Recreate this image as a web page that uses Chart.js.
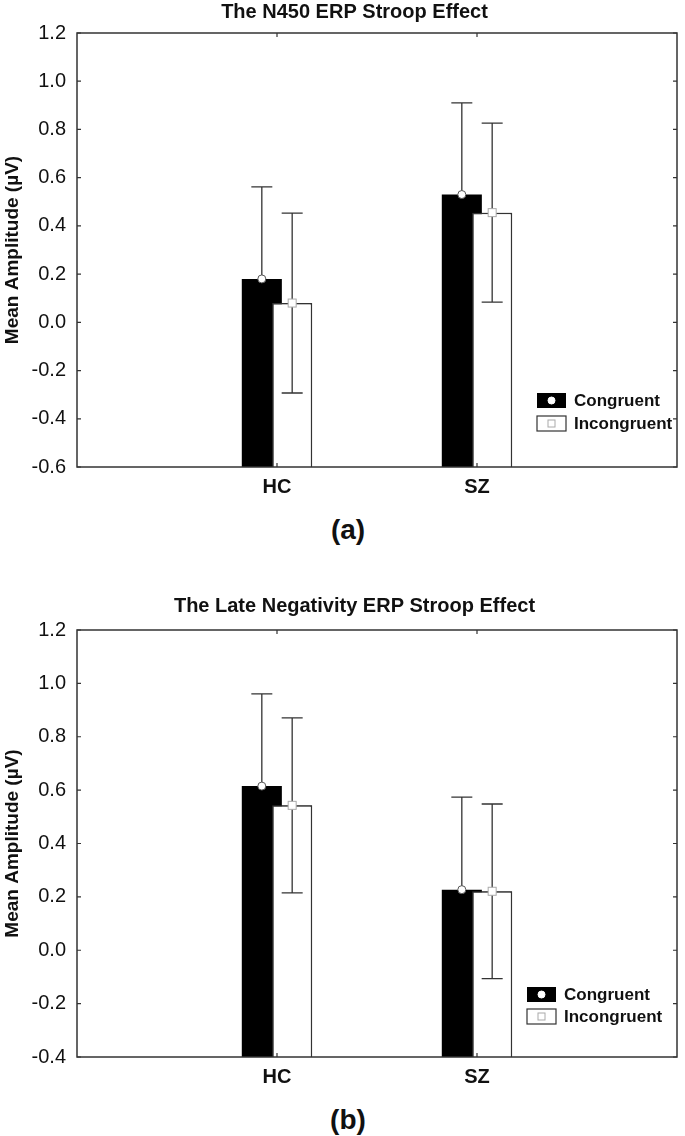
<!DOCTYPE html>
<html>
<head>
<meta charset="utf-8">
<script src="https://cdn.jsdelivr.net/npm/chart.js@4.4.1/dist/chart.umd.min.js"></script>
<style>
  body { margin: 0; background: #fff; width: 685px; height: 1136px; position: relative; overflow: hidden;
         font-family: "Liberation Sans", Arial, sans-serif; }
  .box { position: absolute; left: 0; width: 685px; height: 505px; }
  .panel { position: absolute; left: 0; width: 696px; text-align: center; font-weight: bold;
           font-size: 28px; line-height: 32px; color: #111; }
</style>
</head>
<body>
<div class="box" style="top:0px"><canvas id="chartA"></canvas></div>
<div class="panel" style="top:514px">(a)</div>
<div class="box" style="top:594px"><canvas id="chartB"></canvas></div>
<div class="panel" style="top:1104px">(b)</div>

<script>
const groups = ['HC', 'SZ'];
const seriesNames = ['Congruent', 'Incongruent'];
const yTitle = 'Mean Amplitude (\u00b5V)';

// (a) N450
const n450Title = 'The N450 ERP Stroop Effect';
const n450Congruent = [0.18, 0.53];
const n450Incongruent = [0.08, 0.455];
const n450CongruentErr = [0.382, 0.38];
const n450IncongruentErr = [0.373, 0.371];
const n450Ticks = [-0.6, -0.4, -0.2, 0.0, 0.2, 0.4, 0.6, 0.8, 1.0, 1.2];

// (b) late negativity
const lateTitle = 'The Late Negativity ERP Stroop Effect';
const lateCongruent = [0.615, 0.227];
const lateIncongruent = [0.543, 0.221];
const lateCongruentErr = [0.346, 0.347];
const lateIncongruentErr = [0.328, 0.327];
const lateTicks = [-0.4, -0.2, 0.0, 0.2, 0.4, 0.6, 0.8, 1.0, 1.2];

const FONT = '"Liberation Sans", Arial, sans-serif';
const INK = '#111';
const LINE = '#333';

// empty slots at both ends so HC / SZ sit at 1/3 and 2/3 of the axis
function pad(arr) { return [null, ...arr, null]; }

function drawErrors(ctx, chart, index) {
  const ds = chart.data.datasets[index];
  const meta = chart.getDatasetMeta(index);
  const y = chart.scales.y;
  ctx.save();
  ctx.strokeStyle = LINE;
  ctx.lineWidth = 1.3;
  meta.data.forEach((bar, i) => {
    const v = ds.data[i];
    if (v == null) return;
    const e = ds.errors[i];
    const top = y.getPixelForValue(v + e);
    const bot = y.getPixelForValue(v - e);
    ctx.beginPath();
    ctx.moveTo(bar.x, top); ctx.lineTo(bar.x, bot);
    ctx.moveTo(bar.x - 10.5, top); ctx.lineTo(bar.x + 10.5, top);
    ctx.moveTo(bar.x - 10.5, bot); ctx.lineTo(bar.x + 10.5, bot);
    ctx.stroke();
  });
  ctx.restore();
}

function drawCircle(ctx, x, y, r, stroke) {
  ctx.beginPath();
  ctx.arc(x, y, r, 0, Math.PI * 2);
  ctx.fillStyle = '#fff';
  ctx.fill();
  ctx.strokeStyle = stroke;
  ctx.lineWidth = 1;
  ctx.stroke();
}

function drawSquare(ctx, x, y, s, stroke) {
  ctx.fillStyle = '#fff';
  ctx.fillRect(x - s / 2, y - s / 2, s, s);
  ctx.strokeStyle = stroke;
  ctx.lineWidth = 1;
  ctx.strokeRect(x - s / 2, y - s / 2, s, s);
}

const decor = {
  id: 'decor',
  beforeDatasetsDraw(chart) {
    // congruent whiskers go under the black bar
    drawErrors(chart.ctx, chart, 0);
  },
  afterDatasetsDraw(chart, args, opts) {
    const ctx = chart.ctx;
    const a = chart.chartArea;
    const xs = chart.scales.x, ys = chart.scales.y;

    // white bars overlap the black ones
    chart.getDatasetMeta(1).data.forEach((el, i) => {
      if (chart.data.datasets[1].data[i] != null) el.draw(ctx);
    });
    drawErrors(ctx, chart, 1);

    // markers on top of each bar
    chart.getDatasetMeta(0).data.forEach((el, i) => {
      if (chart.data.datasets[0].data[i] != null) drawCircle(ctx, el.x, el.y, 4, '#555');
    });
    chart.getDatasetMeta(1).data.forEach((el, i) => {
      if (chart.data.datasets[1].data[i] != null) drawSquare(ctx, el.x, el.y, 8, '#aaa');
    });

    // frame and inward ticks
    ctx.save();
    ctx.strokeStyle = LINE;
    ctx.lineWidth = 1.5;
    ctx.strokeRect(a.left, a.top, a.right - a.left, a.bottom - a.top);
    ctx.lineWidth = 1.2;
    ctx.beginPath();
    ys.ticks.forEach(t => {
      const py = ys.getPixelForValue(t.value);
      ctx.moveTo(a.left, py); ctx.lineTo(a.left + 4, py);
      ctx.moveTo(a.right, py); ctx.lineTo(a.right - 4, py);
    });
    xs.getLabels().forEach((lab, i) => {
      if (!lab) return;
      const px = xs.getPixelForValue(i);
      ctx.moveTo(px, a.top); ctx.lineTo(px, a.top + 4);
      ctx.moveTo(px, a.bottom); ctx.lineTo(px, a.bottom - 4);
    });
    ctx.stroke();
    ctx.restore();

    // legend inside the plot
    const lx = a.right - opts.legendRight;
    const ly = a.bottom - opts.legendBottom;
    const sw = 29, sh = 15, gap = opts.legendGap;
    ctx.save();
    ctx.fillStyle = '#000';
    ctx.fillRect(lx, ly, sw, sh);
    drawCircle(ctx, lx + sw / 2, ly + sh / 2, 3.5, '#fff');
    ctx.fillStyle = '#fff';
    ctx.fillRect(lx, ly + gap, sw, sh);
    ctx.strokeStyle = LINE;
    ctx.lineWidth = 1.2;
    ctx.strokeRect(lx, ly + gap, sw, sh);
    drawSquare(ctx, lx + sw / 2, ly + gap + sh / 2, 7, '#aaa');
    ctx.fillStyle = INK;
    ctx.font = 'bold 17px ' + FONT;
    ctx.textBaseline = 'middle';
    ctx.textAlign = 'left';
    ctx.fillText(chart.data.datasets[0].label, lx + sw + 8, ly + sh / 2 + 1);
    ctx.fillText(chart.data.datasets[1].label, lx + sw + 8, ly + gap + sh / 2 + 1);

    // y axis title
    ctx.translate(13, (a.top + a.bottom) / 2);
    ctx.rotate(-Math.PI / 2);
    ctx.textAlign = 'center';
    ctx.font = 'bold 19px ' + FONT;
    ctx.fillText(yTitle, 0, 0);
    ctx.restore();
  }
};

function makeChart(id, title, cong, incong, congErr, incongErr, ticks, titleGap, plotHeight, legend) {
  const yMin = ticks[0];
  return new Chart(document.getElementById(id), {
    type: 'bar',
    data: {
      labels: pad(groups).map(g => g || ''),
      datasets: [
        {
          label: seriesNames[0],
          data: pad(cong),
          errors: pad(congErr),
          base: yMin,
          backgroundColor: '#000',
          borderWidth: 0
        },
        {
          label: seriesNames[1],
          data: pad(incong),
          errors: pad(incongErr),
          base: yMin,
          backgroundColor: '#fff',
          borderColor: LINE,
          borderWidth: 1.5
        }
      ]
    },
    options: {
      responsive: true,
      maintainAspectRatio: false,
      animation: false,
      categoryPercentage: 0.3035,
      barPercentage: 1.32,
      layout: { padding: { left: 30, right: 6, top: 0, bottom: 505 - 33 - plotHeight - 38 } },
      plugins: {
        legend: { display: false },
        tooltip: { enabled: false },
        title: {
          display: true,
          text: title,
          color: INK,
          font: { family: FONT, size: 20, weight: 'bold' },
          padding: { top: 0, bottom: titleGap }
        },
        decor: legend
      },
      scales: {
        x: {
          offset: false,
          grid: { display: false, drawTicks: false },
          border: { display: false },
          ticks: {
            color: INK,
            font: { family: FONT, size: 20, weight: 'bold' },
            padding: 8,
            autoSkip: false,
            maxRotation: 0
          },
          afterFit(scale) { scale.height = 38; }
        },
        y: {
          min: yMin,
          max: ticks[ticks.length - 1],
          grid: { display: false, drawTicks: false },
          border: { display: false },
          afterBuildTicks(scale) { scale.ticks = ticks.map(v => ({ value: v })); },
          ticks: {
            color: INK,
            font: { family: FONT, size: 20 },
            padding: 11,
            callback: v => Number(v).toFixed(1)
          },
          afterFit(scale) { scale.width = 47; }
        }
      }
    },
    plugins: [decor]
  });
}

makeChart('chartA', n450Title, n450Congruent, n450Incongruent, n450CongruentErr, n450IncongruentErr,
  n450Ticks, 9, 434, { legendRight: 140, legendBottom: 74, legendGap: 23 });
makeChart('chartB', lateTitle, lateCongruent, lateIncongruent, lateCongruentErr, lateIncongruentErr,
  lateTicks, 12, 430, { legendRight: 150, legendBottom: 70, legendGap: 22 });
</script>
</body>
</html>
